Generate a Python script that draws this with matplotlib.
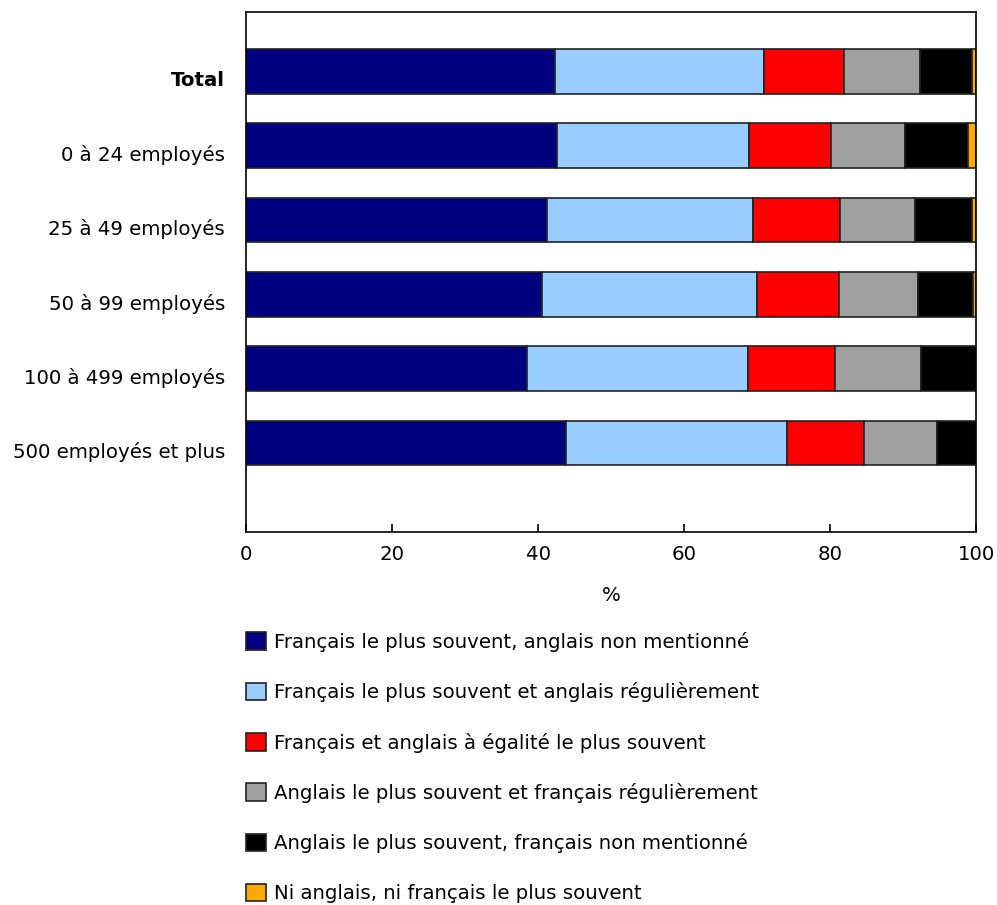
import numpy as np
import matplotlib
matplotlib.use("Agg")
import matplotlib.pyplot as plt

# === DATA ===
categories = ["Total", "0 à 24 employés", "25 à 49 employés", "50 à 99 employés",
              "100 à 499 employés", "500 employés et plus"]
series_names = [
    "Français le plus souvent, anglais non mentionné",
    "Français le plus souvent et anglais régulièrement",
    "Français et anglais à égalité le plus souvent",
    "Anglais le plus souvent et français régulièrement",
    "Anglais le plus souvent, français non mentionné",
    "Ni anglais, ni français le plus souvent",
]
fr_only = [42.3, 42.6, 41.2, 40.5, 38.5, 43.8]
fr_en_reg = [28.7, 26.3, 28.3, 29.5, 30.3, 30.3]
fr_en_equal = [10.9, 11.3, 11.9, 11.2, 11.9, 10.5]
en_fr_reg = [10.4, 10.1, 10.3, 10.8, 11.8, 10.1]
en_only = [7.2, 8.6, 7.8, 7.6, 7.5, 5.3]
neither = [0.5, 1.1, 0.5, 0.4, 0.1, 0.0]

series = [fr_only, fr_en_reg, fr_en_equal, en_fr_reg, en_only, neither]
colors = ["#000080", "#99CCFF", "#FF0000", "#A0A0A0", "#000000", "#FFAA00"]

# === FIGURE ===
plt.rcParams["font.family"] = ["DejaVu Sans"]
fs = 14.2
fig = plt.figure(figsize=(9.97, 9.05), dpi=100)
ax = fig.add_axes([246 / 997, 1 - 532 / 905, 730 / 997, 520 / 905])

ypos = np.arange(len(categories)) + 0.8
left = np.zeros(len(categories))
handles = []
for vals, col, name in zip(series, colors, series_names):
    b = ax.barh(ypos, vals, left=left, height=0.6, color=col,
                edgecolor="#222222", linewidth=1.2, label=name)
    handles.append(b)
    left += np.array(vals)

ax.set_xlim(0, 100)
ax.set_ylim(7, 0)
ax.set_xticks([0, 20, 40, 60, 80, 100])
ax.tick_params(axis="x", direction="in", length=6, width=1.2, labelsize=fs, pad=9)
ax.set_yticks(np.arange(len(categories)) + 0.9)
ax.set_yticklabels(categories, fontsize=fs)
ax.tick_params(axis="y", length=0, pad=15)
ax.get_yticklabels()[0].set_fontweight("bold")
for sp in ax.spines.values():
    sp.set_linewidth(1.2)
ax.set_xlabel("%", fontsize=fs, labelpad=16)

# === LEGEND ===
leg = fig.legend(handles=handles, labels=series_names, loc="upper left",
                 bbox_to_anchor=(238 / 997, 1 - 624 / 905), frameon=False,
                 fontsize=fs, handlelength=1.0, handleheight=1.0,
                 handletextpad=0.4, labelspacing=1.54, borderaxespad=0)

fig.savefig("out.png", dpi=100)
